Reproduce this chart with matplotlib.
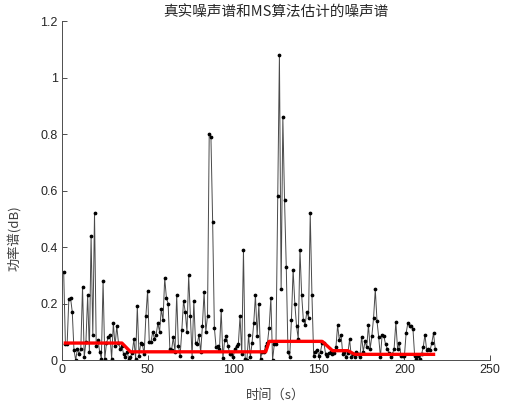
"""True noise spectrum vs. MS (minimum statistics) noise estimate."""
import matplotlib

matplotlib.use("Agg")
import matplotlib.pyplot as plt
import numpy as np

# ---------------------------------------------------------------------------
# data
# ---------------------------------------------------------------------------
true_noise = [
    0.31, 0.055, 0.055, 0.215, 0.22, 0.17, 0.035, 0.0, 0.04, 0.02,
    0.04, 0.26, 0.01, 0.065, 0.23, 0.03, 0.44, 0.09, 0.52, 0.05,
    0.07, 0.03, 0.005, 0.28, 0.005, 0.06, 0.08, 0.09, 0.005, 0.13,
    0.05, 0.12, 0.06, 0.04, 0.05, 0.02, 0.01, 0.03, 0.005, 0.01,
    0.026, 0.073, 0.005, 0.19, 0.015, 0.06, 0.055, 0.02, 0.155, 0.245,
    0.062, 0.065, 0.1, 0.075, 0.09, 0.13, 0.1, 0.18, 0.14, 0.29,
    0.22, 0.2, 0.04, 0.035, 0.08, 0.03, 0.23, 0.05, 0.015, 0.105,
    0.21, 0.17, 0.1, 0.30, 0.155, 0.01, 0.21, 0.06, 0.055, 0.09,
    0.027, 0.12, 0.24, 0.1, 0.155, 0.80, 0.79, 0.49, 0.115, 0.045,
    0.05, 0.04, 0.176, 0.006, 0.07, 0.085, 0.05, 0.02, 0.02, 0.01,
    0.04, 0.05, 0.055, 0.155, 0.02, 0.39, 0.005, 0.0, 0.088, 0.01,
    0.06, 0.13, 0.23, 0.085, 0.2, 0.005, 0.03, 0.03, 0.05, 0.06,
    0.115, 0.22, 0.0, 0.055, 0.055, 0.58, 1.08, 0.25, 0.86, 0.565,
    0.33, 0.03, 0.01, 0.14, 0.32, 0.2, 0.12, 0.075, 0.39, 0.23,
    0.14, 0.125, 0.17, 0.15, 0.52, 0.23, 0.015, 0.03, 0.037, 0.015,
    0.03, 0.06, 0.06, 0.02, 0.015, 0.025, 0.03, 0.02, 0.025, 0.045,
    0.123, 0.07, 0.09, 0.02, 0.03, 0.01, 0.025, 0.073, 0.01, 0.02,
    0.01, 0.03, 0.02, 0.01, 0.083, 0.03, 0.066, 0.045, 0.124, 0.04,
    0.085, 0.15, 0.25, 0.138, 0.08, 0.01, 0.09, 0.085, 0.055, 0.04,
    0.025, 0.01, 0.02, 0.04, 0.134, 0.04, 0.06, 0.015, 0.013, 0.013,
    0.095, 0.13, 0.12, 0.12, 0.11, 0.013, 0.005, 0.013, 0.005, 0.02,
    0.045, 0.09, 0.035, 0.04, 0.035, 0.06, 0.095, 0.04,
]

# MS estimate: corner points of the step-like red curve
ms_time = [1, 35, 40, 119, 121, 152, 158, 167, 171, 218]
ms_level = [0.06, 0.06, 0.029, 0.029, 0.066, 0.066, 0.033, 0.033, 0.02, 0.02]

x_ticks = [0, 50, 100, 150, 200, 250]
y_ticks = [0, 0.2, 0.4, 0.6, 0.8, 1.0, 1.2]
y_tick_labels = ["0", "0.2", "0.4", "0.6", "0.8", "1", "1.2"]

TITLE = "真实噪声谱和MS算法估计的噪声谱"
XLABEL = "时间（s）"
YLABEL = "功率谱(dB)"

CJK = ["Noto Sans CJK SC", "DejaVu Sans"]
AXIS_GRAY = "#4d4d4d"

plt.rcParams["font.family"] = ["Liberation Sans", "DejaVu Sans"]

fig = plt.figure(figsize=(5.11, 4.05), dpi=100)
ax = fig.add_axes([0.1213, 0.1111, 0.8376, 0.837])

t = np.arange(1, len(true_noise) + 1)
ax.plot(t, true_noise, color="#4a4a4a", lw=0.7, marker="o", ms=1.7,
        mfc="black", mec="black", zorder=2)
ax.plot(ms_time, ms_level, color="#ff0000", lw=2.4, solid_capstyle="butt",
        zorder=3)

ax.set_xlim(0, 250)
ax.set_ylim(0, 1.2)
ax.set_xticks(x_ticks)
ax.set_yticks(y_ticks)
ax.set_yticklabels(y_tick_labels)

for side in ("top", "right"):
    ax.spines[side].set_visible(False)
for side in ("left", "bottom"):
    ax.spines[side].set_color(AXIS_GRAY)
    ax.spines[side].set_linewidth(0.7)

ax.tick_params(axis="both", direction="in", length=3.5, width=0.7,
               color=AXIS_GRAY, labelsize=9, labelcolor="#262626")
ax.tick_params(axis="x", pad=3)
ax.tick_params(axis="y", pad=3)

ax.set_title(TITLE, family=CJK, fontsize=10.5, color="#262626", pad=4)
ax.set_xlabel(XLABEL, family=CJK, fontsize=9.5, color="#404040")
ax.xaxis.set_label_coords(0.5, -0.085)
ax.set_ylabel(YLABEL, family=CJK, fontsize=9.5, color="#404040")
ax.yaxis.set_label_coords(-0.093, 0.36)

fig.savefig("out.png", dpi=100)
plt.close(fig)
